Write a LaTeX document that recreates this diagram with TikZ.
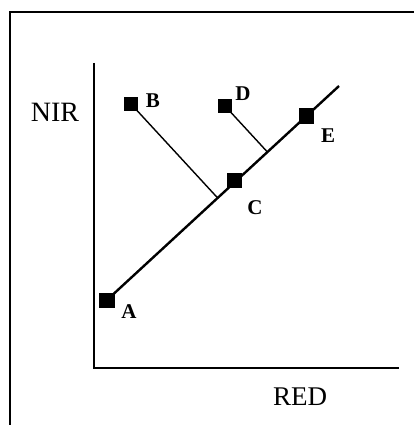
\documentclass[tikz,border=0pt]{standalone}
\usepackage{fontspec}
\setmainfont{Liberation Serif}
\usetikzlibrary{calc}
\tikzset{
  sq/.style={fill=black, draw=none, inner sep=0pt, minimum size=15pt},
  lbl/.style={inner sep=0pt, font=\fontsize{21}{23}\selectfont\bfseries},
  axlbl/.style={inner sep=0pt, font=\fontsize{28}{30}\selectfont},
  axis/.style={line width=1.8pt},
  mainline/.style={line width=2.4pt},
  perp/.style={line width=1.4pt},
  frame/.style={line width=2.2pt}
}
\begin{document}
\begin{tikzpicture}[x=1pt,y=-1pt]
\useasboundingbox (0,0) rectangle (414,425);
\clip (0,0) rectangle (414,425);
\draw[frame] (10,440) -- (10,12) -- (440,12);
% axes
\coordinate (O) at (94,368);
\coordinate (Ytop) at (94,63);
\coordinate (Xend) at (399,368);
\draw[axis] (Ytop) -- (O) -- (Xend);
\node[axlbl] (nir) at (55,112) {NIR};
\node[axlbl, font=\fontsize{27}{29}\selectfont] (red) at (300,397) {RED};
% points
\node[sq, minimum width=16pt] (A) at (107,300) {};
\node[sq, minimum size=14pt] (B) at (131,104) {};
\node[sq] (C) at (234.5,180) {};
\node[sq, minimum size=14pt] (D) at (225,106) {};
\node[sq] (E) at (306,116) {};
\coordinate (End) at (339,86);
% lines
\draw[mainline] (A.center) -- (End);
\draw[perp] (B.center) -- ($(A.center)!(B.center)!(End)$);
\draw[perp] (D.center) -- ($(A.center)!(D.center)!(End)$);
% labels
\node[lbl] (la) at (129,312) {A};
\node[lbl] (lb) at (153,101) {B};
\node[lbl] (lc) at (255,208) {C};
\node[lbl] (ld) at (243,94) {D};
\node[lbl] (le) at (328,136) {E};
\end{tikzpicture}
\end{document}
